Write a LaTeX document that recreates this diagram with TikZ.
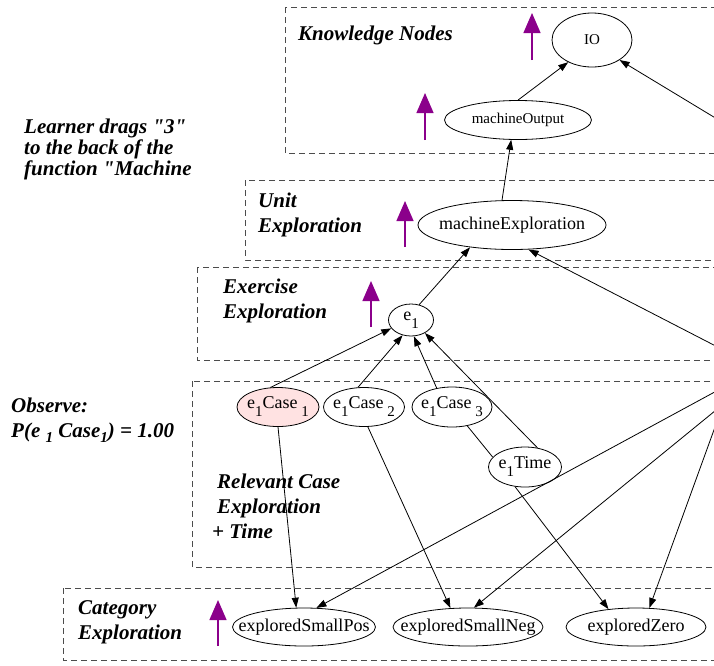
\documentclass[tikz,border=0pt]{standalone}
\usepackage{fontspec}
\setmainfont{Liberation Serif}[Ligatures=TeXOff]
\usetikzlibrary{arrows.meta,shapes.geometric}
\definecolor{casepink}{RGB}{255,226,226}
\definecolor{markpurple}{RGB}{139,0,139}
% lowered index digits used inside the ellipses and in the side note
\newcommand\lowsub[1]{\raisebox{-8pt}{\fontsize{15pt}{15pt}\selectfont #1}}
\newcommand\labsub[1]{\raisebox{-5pt}{\fontsize{15pt}{15pt}\selectfont #1}}
% zero-width label so the ellipse keeps its given size
\newcommand\zw[1]{\makebox[0pt]{#1}}

\tikzset{
  kn/.style={ellipse, draw, line width=0.8pt, inner sep=0pt,
             font=\fontsize{18pt}{18pt}\selectfont},
  smallkn/.style={kn, font=\fontsize{15pt}{15pt}\selectfont},
  layer/.style={draw=black!70, line width=0.9pt, dash pattern=on 6pt off 4pt},
  edge/.style={line width=0.8pt, -{Triangle[length=10pt,width=7pt]}},
  plain/.style={line width=0.8pt},
  upmark/.style={draw=markpurple, line width=1.3pt,
                 -{Triangle[length=20pt,width=17pt]}},
  lab/.style={anchor=base west, inner sep=0pt,
              font=\fontsize{21pt}{25pt}\selectfont\bfseries\itshape},
}

\begin{document}
\begin{tikzpicture}[x=1pt,y=-1pt]
\useasboundingbox (0,0) rectangle (714,665);
\clip (0,0) rectangle (714,665);

% layer frames (open to the right)
\draw[layer] (285,7)   rectangle (740,153);
\draw[layer] (245,180) rectangle (740,260);
\draw[layer] (197,267) rectangle (740,360);
\draw[layer] (192,381) rectangle (740,567);
\draw[layer] (63,588)  rectangle (740,660);

% layer titles and notes
\node[lab] (tkn)  at (298,40)  {Knowledge Nodes};
\node[lab] (tue1) at (258,207) {Unit};
\node[lab] (tue2) at (258,232) {Exploration};
\node[lab] (tee1) at (223,293) {Exercise};
\node[lab] (tee2) at (223,318) {Exploration};
\node[lab] (trc1) at (217,488) {Relevant Case};
\node[lab] (trc2) at (217,513) {Exploration};
\node[lab] (trc3) at (212,538) {+ Time};
\node[lab] (tce1) at (78,614)  {Category};
\node[lab] (tce2) at (78,639)  {Exploration};
\node[lab] (nl1)  at (24,133)  {Learner drags "3"};
\node[lab] (nl2)  at (24,154)  {to the back of the};
\node[lab] (nl3)  at (24,175)  {function "Machine};
\node[lab] (ob1)  at (11,412)  {Observe:};
\node[lab] (ob2)  at (11,437)  {P(e \labsub{1} Case\labsub{1}) = 1.00};

% upward markers
\draw[upmark] (532,60)  -- (532,13);
\draw[upmark] (425,140) -- (425,93);
\draw[upmark] (405,247) -- (405,201);
\draw[upmark] (371,327) -- (371,281);
\draw[upmark] (218,646) -- (218,600);

% nodes
\node[smallkn, minimum width=80pt,  minimum height=54pt] (io)   at (592,40)  {\zw{IO}};
\node[smallkn, minimum width=147pt, minimum height=39pt] (mout) at (518,120) {\zw{machineOutput}};
\node[kn, minimum width=188pt, minimum height=49pt] (mexp) at (512,225) {\zw{machineExploration}};
\node[kn, minimum width=45pt,  minimum height=32pt] (e1)   at (411,320) {\zw{e\lowsub{1}}};
\node[kn, fill=casepink, minimum width=82pt, minimum height=39pt] (c1) at (278,407) {\zw{e\lowsub{1}Case\hspace{4pt}\lowsub{1}}};
\node[kn, minimum width=81pt,  minimum height=39pt] (c2)   at (364,407) {\zw{e\lowsub{1}Case\hspace{4pt}\lowsub{2}}};
\node[kn, minimum width=80pt,  minimum height=40pt] (c3)   at (452,407) {\zw{e\lowsub{1}Case\hspace{4pt}\lowsub{3}}};
\node[kn, minimum width=73pt,  minimum height=40pt] (t1)   at (525,467) {\zw{e\lowsub{1}Time}};
\node[kn, minimum width=143pt, minimum height=38pt] (spos) at (304,627) {\zw{exploredSmallPos}};
\node[kn, minimum width=150pt, minimum height=38pt] (sneg) at (468,627) {\zw{exploredSmallNeg}};
\node[kn, minimum width=140pt, minimum height=38pt] (zero) at (636,627) {\zw{exploredZero}};

% sources lying beyond the right border
\coordinate (r1) at (770,151);
\coordinate (r2) at (770,374);
\coordinate (r3) at (770,362);
\coordinate (r4) at (770,366);
\coordinate (r5) at (735,372);

% connectors
\draw[edge] (mout.north) -- (io.223);
\draw[edge] (r1) -- (io.324);
\draw[edge] (mexp.112) -- (mout.251);
\draw[edge] (e1.62) -- (mexp.208);
\draw[edge] (r2) -- (mexp.304);
\draw[edge] (c1.111) -- (e1.203);
\draw[edge] (c2.107) -- (e1.241);
\draw[edge] (c3.129) -- (e1.280);
\draw[edge] (t1.57) -- (e1.317);
\draw[plain] (c3.309) -- (t1.163);
\draw[edge] (c1.south) -- (spos.112);
\draw[edge] (c2.281) -- (sneg.133);
\draw[edge] (t1.243) -- (zero.147);
\draw[edge] (r3) -- (spos.57);
\draw[edge] (r4) -- (sneg.73);
\draw[edge] (r5) -- (zero.55);
\end{tikzpicture}
\end{document}
